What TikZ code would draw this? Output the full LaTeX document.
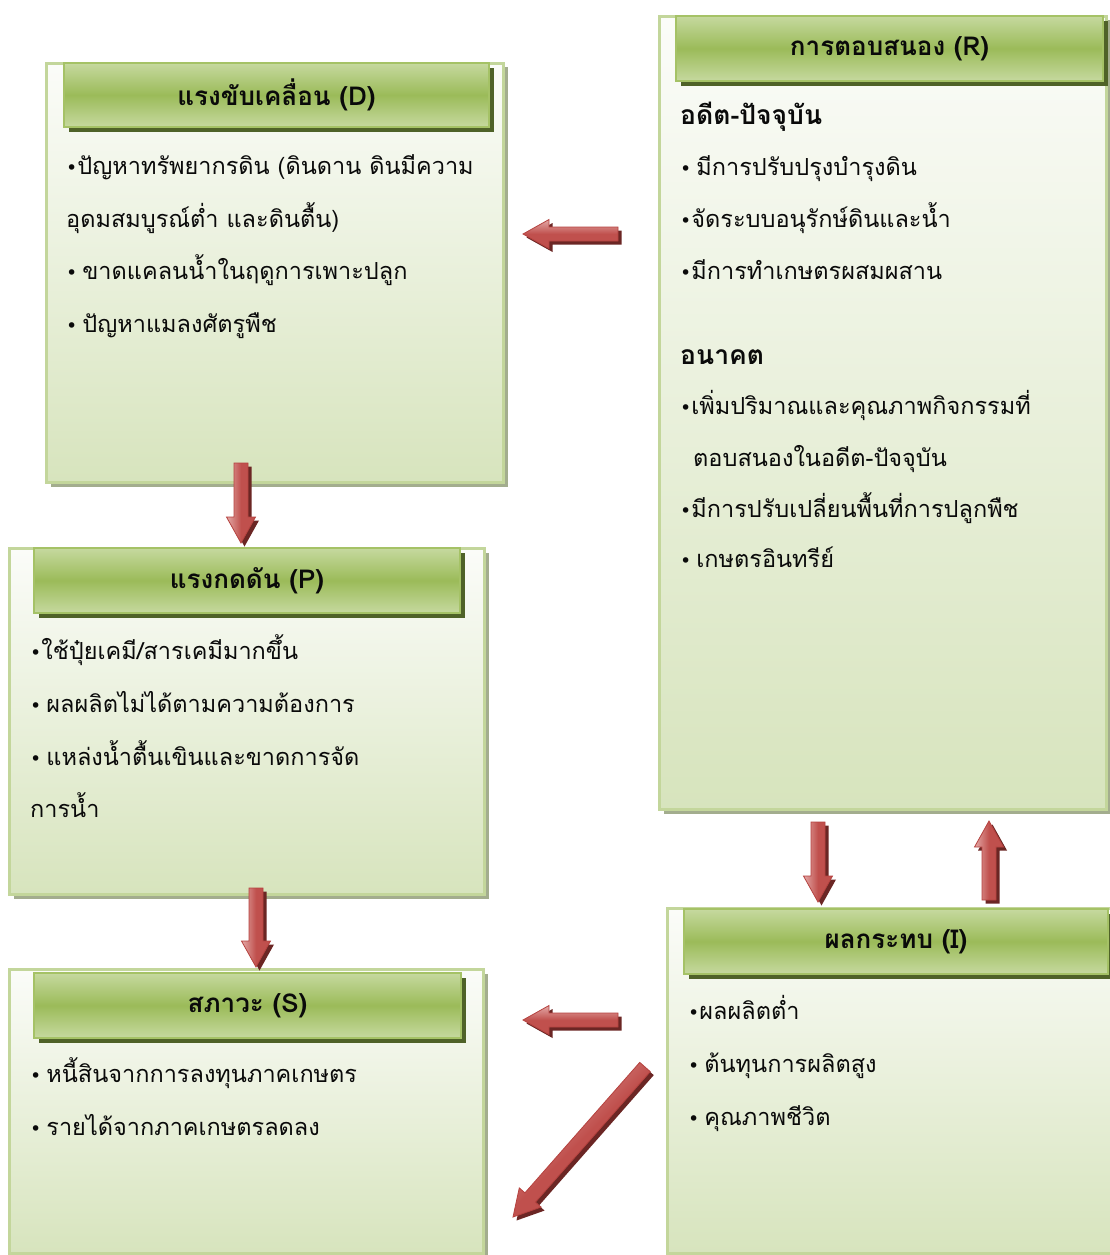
\documentclass[tikz,border=0pt]{standalone}
\usepackage{fontspec}
\setmainfont{Loma}[Script=Thai]
\newfontfamily\bulfont{DejaVu Sans}
\usetikzlibrary{calc,shadows}
\definecolor{panelTop}{HTML}{FBFCF9}
\definecolor{panelBot}{HTML}{D7E4BD}
\definecolor{panelBorder}{HTML}{C3D69B}
\definecolor{panelShadow}{HTML}{A3AD8E}
\definecolor{hdrLight}{HTML}{C6D99F}
\definecolor{hdrMid}{HTML}{9BBB59}
\definecolor{hdrBorder}{HTML}{A5C266}
\definecolor{hdrShadow}{HTML}{4F6228}
\definecolor{arrLight}{HTML}{E3A9A7}
\definecolor{arrMid}{HTML}{C0504D}
\definecolor{arrEdge}{HTML}{B5423F}
\definecolor{arrShadow}{HTML}{6B2624}
\definecolor{txtcol}{HTML}{0A0A0A}
\newcommand\bul{{\bulfont\fontsize{19}{19}\selectfont •}}
\newcommand\bulsp{\bul\hspace{5pt}}
\newcommand\blockarrow[4]{% #1 prefix, #2 start, #3 end, #4 shading angle
  \coordinate (#1n) at ($(#3)!26pt!(#2)$);
  \foreach \layer in {0,1}{%
    \ifnum\layer=0
      \tikzset{arrcur/.style={fill=arrShadow, draw=none, transform canvas={xshift=3.5pt,yshift=-3.5pt}}}%
    \else
      \tikzset{arrcur/.style={top color=arrLight, bottom color=arrMid, middle color=arrMid, shading angle=#4, draw=arrEdge, line width=0.8pt}}%
    \fi
    \path[arrcur] ($(#2)!7pt!90:(#3)$) -- ($(#1n)!7pt!90:(#3)$) -- ($(#1n)!14.5pt!90:(#3)$)
      -- (#3) -- ($(#1n)!14.5pt!-90:(#3)$) -- ($(#1n)!7pt!-90:(#3)$) -- ($(#2)!7pt!-90:(#3)$) -- cycle;
  }
}
\tikzset{
  panel/.style={draw=panelBorder, line width=3pt, top color=panelTop, bottom color=panelBot,
    drop shadow={shadow xshift=4pt, shadow yshift=-4pt, fill=panelShadow, opacity=1},
    anchor=north west, inner sep=0},
  hdr/.style={draw=hdrBorder, line width=2pt, top color=hdrLight, bottom color=hdrLight, middle color=hdrMid,
    drop shadow={shadow xshift=5pt, shadow yshift=-5pt, fill=hdrShadow, opacity=1},
    anchor=north west, inner sep=0, text=txtcol, font=\fontsize{26}{26}\selectfont\bfseries},
  txt/.style={anchor=base west, inner sep=0, text=txtcol, font=\fontsize{23.5}{23.5}\selectfont},
  btxt/.style={txt, font=\fontsize{26.5}{26.5}\selectfont\bfseries}
}
\begin{document}
\begin{tikzpicture}[x=1pt,y=-1pt]
\useasboundingbox[fill=white] (0,0) rectangle (1110,1255);
% panels
\node[panel, minimum width=457, minimum height=419] (Dp) at (45,62) {};
\node[panel, minimum width=475, minimum height=346] (Pp) at (8,547) {};
\node[panel, minimum width=474, minimum height=284] (Sp) at (8,968) {};
\node[panel, minimum width=447, minimum height=793] (Rp) at (658,15) {};
\node[panel, minimum width=444, minimum height=345] (Ip) at (666,907) {};
% headers
\node[hdr, minimum width=425, minimum height=64] (Dh) at (63,62) {แรงขับเคลื่อน (D)};
\node[hdr, minimum width=426, minimum height=65] (Ph) at (33,547) {แรงกดดัน (P)};
\node[hdr, minimum width=427, minimum height=65] (Sh) at (33,972) {สภาวะ (S)};
\node[hdr, minimum width=427, minimum height=65] (Rh) at (675,15) {การตอบสนอง (R)};
\node[hdr, minimum width=424, minimum height=65] (Ih) at (683,908) {ผลกระทบ (I)};
% D text
\node[txt] (d1) at (66,174) {\bul ปัญหาทรัพยากรดิน (ดินดาน ดินมีความ};
\node[txt] (d2) at (66,227) {อุดมสมบูรณ์ต่ำ และดินตื้น)};
\node[txt] (d3) at (66,279) {\bulsp ขาดแคลนน้ำในฤดูการเพาะปลูก};
\node[txt] (d4) at (66,332) {\bulsp ปัญหาแมลงศัตรูพืช};
% R text
\node[btxt] (r0) at (680,124) {อดีต-ปัจจุบัน};
\node[txt] (r1) at (680,175) {\bulsp มีการปรับปรุงบำรุงดิน};
\node[txt] (r2) at (680,227) {\bul จัดระบบอนุรักษ์ดินและน้ำ};
\node[txt] (r3) at (680,279) {\bul มีการทำเกษตรผสมผสาน};
\node[btxt] (r4) at (680,364) {อนาคต};
\node[txt] (r5) at (680,414) {\bul เพิ่มปริมาณและคุณภาพกิจกรรมที่};
\node[txt] (r6) at (693,466) {ตอบสนองในอดีต-ปัจจุบัน};
\node[txt] (r7) at (680,517) {\bul มีการปรับเปลี่ยนพื้นที่การปลูกพืช};
\node[txt] (r8) at (680,567) {\bulsp เกษตรอินทรีย์};
% P text
\node[txt] (p1) at (30,659) {\bul ใช้ปุ๋ยเคมี/สารเคมีมากขึ้น};
\node[txt] (p2) at (30,712) {\bulsp ผลผลิตไม่ได้ตามความต้องการ};
\node[txt] (p3) at (30,765) {\bulsp แหล่งน้ำตื้นเขินและขาดการจัด};
\node[txt] (p4) at (30,817) {การน้ำ};
% S text
\node[txt] (s1) at (30,1082) {\bulsp หนี้สินจากการลงทุนภาคเกษตร};
\node[txt] (s2) at (30,1135) {\bulsp รายได้จากภาคเกษตรลดลง};
% I text
\node[txt] (i1) at (688,1019) {\bul ผลผลิตต่ำ};
\node[txt] (i2) at (688,1072) {\bulsp ต้นทุนการผลิตสูง};
\node[txt] (i3) at (688,1125) {\bulsp คุณภาพชีวิต};
% arrow end points
\coordinate (aRDs) at (618,234);
\coordinate (aRDe) at (523,234);
\coordinate (aDPs) at (241,463);
\coordinate (aDPe) at (241,543);
\coordinate (aPSs) at (256,888);
\coordinate (aPSe) at (256,967);
\coordinate (aISs) at (618,1020);
\coordinate (aISe) at (523,1020);
\coordinate (aRIs) at (818,822);
\coordinate (aRIe) at (818,902);
\coordinate (aIRs) at (989,900);
\coordinate (aIRe) at (989,821);
\coordinate (aXs) at (645,1067);
\coordinate (aXe) at (513,1217);
\blockarrow{RD}{aRDs}{aRDe}{0}
\blockarrow{DP}{aDPs}{aDPe}{90}
\blockarrow{PS}{aPSs}{aPSe}{90}
\blockarrow{IS}{aISs}{aISe}{0}
\blockarrow{RI}{aRIs}{aRIe}{90}
\blockarrow{IR}{aIRs}{aIRe}{90}
\blockarrow{X}{aXs}{aXe}{45}
\end{tikzpicture}
\end{document}
